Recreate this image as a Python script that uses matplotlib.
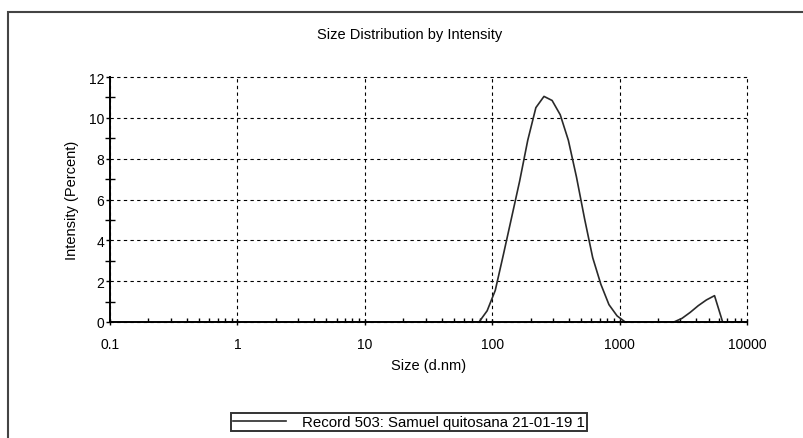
import matplotlib
matplotlib.use('Agg')
import matplotlib.pyplot as plt
import matplotlib.ticker as mticker
from matplotlib.patches import Rectangle

plt.rcParams['font.family'] = ['Liberation Sans', 'DejaVu Sans']

# size classes (d.nm) and intensity (%)
sizes = [0.4, 0.4632, 0.5365, 0.6213, 0.7195, 0.8332, 0.9649, 1.117, 1.294, 1.499,
         1.736, 2.010, 2.328, 2.696, 3.122, 3.615, 4.187, 4.849, 5.615, 6.503,
         7.531, 8.721, 10.10, 11.70, 13.54, 15.69, 18.17, 21.04, 24.36, 28.21,
         32.67, 37.84, 43.82, 50.75, 58.77, 68.06, 78.82, 91.28, 105.7, 122.4,
         141.8, 164.2, 190.1, 220.2, 255.0, 295.3, 342.0, 396.1, 458.7, 531.2,
         615.1, 712.4, 825.0, 955.4, 1106, 1281, 1484, 1718, 1990, 2305,
         2669, 3091, 3580, 4145, 4801, 5560, 6439, 7456, 8635, 10000]
intensity = [0, 0, 0, 0, 0, 0, 0, 0, 0, 0,
             0, 0, 0, 0, 0, 0, 0, 0, 0, 0,
             0, 0, 0, 0, 0, 0, 0, 0, 0, 0,
             0, 0, 0, 0, 0, 0, 0, 0.55, 1.55, 3.3,
             5.1, 6.9, 8.9, 10.5, 11.05, 10.85, 10.15, 8.9, 7.1, 5.05,
             3.15, 1.85, 0.85, 0.3, 0, 0, 0, 0, 0, 0,
             0, 0.18, 0.47, 0.8, 1.08, 1.29, 0, 0, 0, 0]
record = 'Record 503: Samuel quitosana 21-01-19 1'

xticks = [0.1, 1, 10, 100, 1000, 10000]
xticklabels = ['0.1', '1', '10', '100', '1000', '10000']
yticks = [0, 2, 4, 6, 8, 10, 12]

W, H = 804, 439
fig = plt.figure(figsize=(W / 100, H / 100), dpi=100)
ax = fig.add_axes([110 / W, 1 - 323 / H, (747 - 110) / W, (323 - 78) / H])

ax.plot(sizes, intensity, color='#2a2a2a', lw=1.2, label=record)

ax.set_xscale('log')
ax.set_xlim(0.1, 10000)
ax.set_ylim(0, 12)
ax.set_xticks(xticks)
ax.set_xticklabels(xticklabels)
ax.xaxis.set_minor_locator(mticker.LogLocator(base=10, subs=range(2, 10), numticks=20))
ax.xaxis.set_minor_formatter(mticker.NullFormatter())
ax.set_yticks(yticks)
ax.set_yticks([1, 3, 5, 7, 9, 11], minor=True)

ax.grid(True, which='major', color='black', lw=0.8, linestyle=(0, (3, 3)))
for gl in ax.get_xgridlines() + ax.get_ygridlines():
    gl.set_clip_on(False)
for s in ['top', 'right']:
    ax.spines[s].set_visible(False)
for s in ['left', 'bottom']:
    ax.spines[s].set_linewidth(1.4)
    ax.spines[s].set_zorder(3)

ax.tick_params(axis='x', which='major', direction='inout', length=5, width=1, pad=8, labelsize=10)
ax.tick_params(axis='x', which='minor', direction='in', length=3, width=1)
ax.tick_params(axis='y', which='major', direction='out', length=3, width=1, pad=1, labelsize=10)
ax.tick_params(axis='y', which='minor', direction='inout', length=7, width=1)

ax.set_xlabel('Size (d.nm)', fontsize=10.5, labelpad=5)
ax.set_ylabel('Intensity (Percent)', fontsize=10.5, labelpad=7)

fig.text(410 / W, 1 - 35 / H, 'Size Distribution by Intensity', fontsize=10.5,
         ha='center', va='center')

leg = fig.legend(loc='center', bbox_to_anchor=(409 / W, 1 - 423 / H),
                 fontsize=10.8, frameon=True, fancybox=False, handlelength=3.5,
                 handletextpad=1.1, borderpad=0.12, borderaxespad=0)
leg.get_frame().set_edgecolor('black')
leg.get_frame().set_linewidth(1.4)

# outer frame of the report panel
fig.add_artist(Rectangle((8 / W, -0.2), 1.0, 1.2 - 12.7 / H, transform=fig.transFigure,
                         fill=False, edgecolor='#444444', lw=1.5, clip_on=False))

fig.savefig('out.png', dpi=100)
